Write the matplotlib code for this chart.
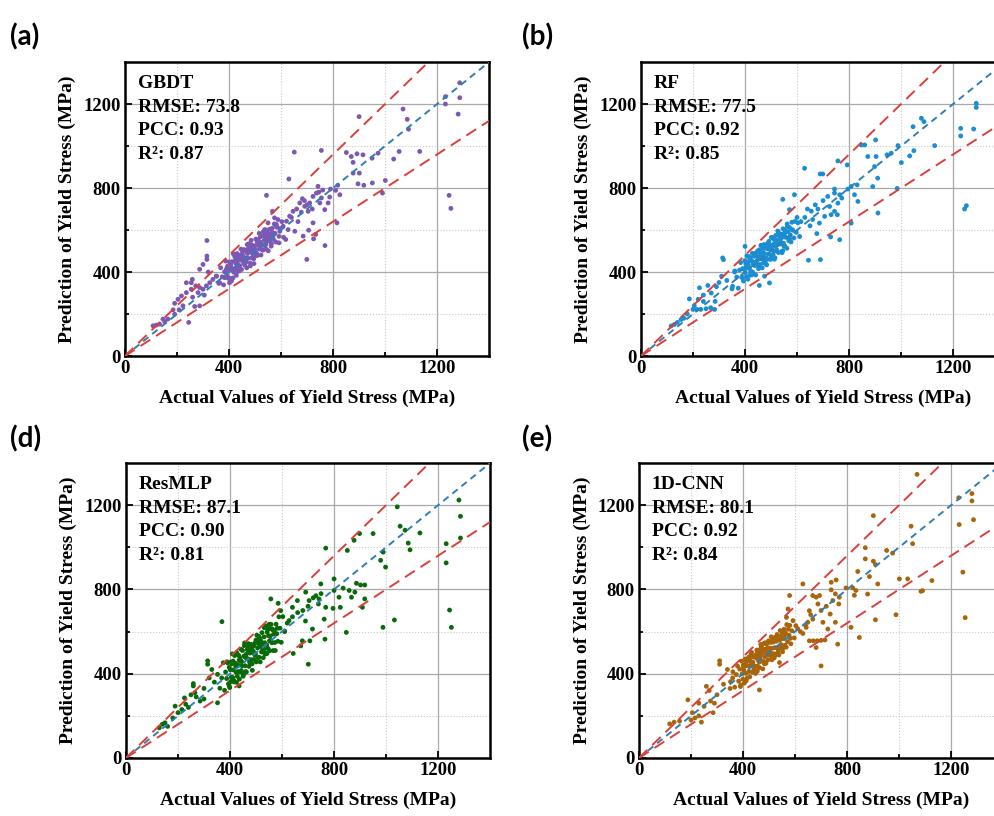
import matplotlib.pyplot as plt
import numpy as np

plt.rcParams['font.family'] = ['Liberation Serif', 'DejaVu Serif']
plt.rcParams['font.weight'] = 'bold'

# actual values of the dense middle cluster (same test samples for all models)
cluster_actual = [352, 361, 368, 374, 379, 383, 387, 391, 394, 397,
                  399, 401, 403, 405, 407, 409, 411, 413, 416, 418,
                  421, 423, 426, 428, 431, 433, 436, 438, 441, 443,
                  446, 448, 451, 453, 456, 458, 461, 463, 466, 468,
                  471, 473, 476, 478, 481, 483, 486, 488, 491, 493,
                  496, 498, 501, 503, 506, 508, 511, 513, 516, 518,
                  521, 523, 526, 528, 531, 533, 536, 538, 541, 543,
                  546, 548, 551, 553, 556, 558, 561, 563, 566, 568,
                  571, 574, 577, 580, 584, 588, 592, 597, 603, 610,
                  402, 412, 422, 432, 442, 452, 462, 472, 482, 492,
                  502, 512, 522, 532, 542, 552, 562, 572, 582, 425,
                  445, 465, 485, 505, 525, 545, 415, 435, 455, 475,
                  495, 515, 535, 555, 390, 410, 430, 450, 470, 490,
                  510, 530, 550, 460, 480, 500, 440, 520, 540, 470]

gbdt_cluster = [380, 346, 420, 377, 339, 401, 452, 383, 427, 370,
                410, 448, 370, 411, 431, 357, 449, 411, 487, 399,
                415, 453, 441, 384, 488, 435, 413, 479, 430, 463,
                509, 412, 460, 479, 442, 507, 432, 467, 501, 420,
                488, 466, 534, 500, 443, 495, 530, 467, 488, 524,
                440, 525, 509, 557, 489, 544, 480, 527, 584, 509,
                542, 481, 572, 529, 506, 572, 552, 526, 601, 509,
                551, 581, 501, 578, 604, 554, 574, 535, 608, 587,
                555, 629, 584, 543, 613, 650, 570, 607, 640, 565,
                425, 411, 473, 402, 457, 495, 449, 504, 429, 510,
                478, 552, 525, 591, 532, 578, 523, 584, 627, 419,
                479, 447, 551, 478, 534, 595, 372, 455, 453, 513,
                463, 529, 588, 547, 414, 363, 461, 456, 531, 470,
                551, 504, 567, 449, 516, 502, 405, 567, 562, 465]

rf_cluster = [332, 405, 376, 323, 409, 445, 375, 416, 357, 412,
              454, 397, 439, 377, 477, 419, 366, 434, 419, 385,
              469, 405, 453, 489, 391, 446, 475, 431, 386, 477,
              437, 500, 470, 422, 498, 436, 527, 463, 420, 497,
              444, 531, 487, 515, 467, 434, 510, 538, 485, 510,
              529, 460, 565, 507, 526, 484, 556, 461, 525, 574,
              506, 551, 595, 493, 543, 580, 533, 560, 498, 581,
              606, 537, 567, 524, 591, 565, 513, 616, 592, 549,
              612, 576, 543, 637, 598, 562, 641, 589, 634, 569,
              420, 475, 401, 438, 488, 416, 489, 483, 465, 546,
              472, 535, 527, 571, 492, 584, 629, 559, 602, 386,
              453, 509, 460, 564, 540, 501, 451, 434, 506, 452,
              523, 468, 548, 598, 374, 475, 398, 469, 473, 530,
              500, 585, 522, 484, 438, 509, 488, 501, 570, 471]

resmlp_cluster = [397, 331, 380, 452, 321, 408, 377, 451, 352, 430,
                  334, 419, 455, 383, 447, 494, 376, 418, 366, 486,
                  449, 408, 500, 388, 441, 488, 374, 475, 461, 415,
                  438, 510, 403, 483, 546, 438, 476, 408, 514, 471,
                  541, 435, 498, 466, 539, 518, 416, 530, 499, 468,
                  546, 493, 456, 583, 522, 476, 577, 539, 456, 556,
                  503, 595, 532, 476, 575, 547, 500, 626, 537, 597,
                  520, 580, 615, 509, 558, 634, 547, 609, 510, 588,
                  607, 510, 635, 590, 554, 670, 616, 549, 671, 602,
                  362, 460, 436, 410, 516, 394, 492, 532, 466, 532,
                  558, 478, 540, 618, 496, 556, 612, 548, 616, 359,
                  457, 535, 447, 547, 515, 609, 361, 463, 533, 455,
                  489, 567, 493, 579, 456, 382, 438, 388, 516, 506,
                  548, 518, 634, 410, 502, 560, 408, 530, 496, 542]

cnn_cluster = [362, 409, 336, 396, 436, 365, 422, 347, 460, 400,
               374, 441, 417, 355, 436, 470, 402, 459, 380, 438,
               473, 410, 385, 459, 438, 501, 408, 455, 484, 437,
               482, 401, 475, 512, 436, 467, 506, 429, 481, 539,
               460, 500, 423, 516, 544, 481, 505, 449, 541, 505,
               466, 556, 522, 487, 548, 575, 466, 521, 550, 495,
               568, 524, 489, 554, 586, 521, 575, 489, 559, 605,
               538, 571, 595, 520, 567, 611, 535, 593, 526, 633,
               552, 611, 583, 629, 542, 604, 652, 570, 628, 614,
               434, 366, 478, 445, 421, 493, 455, 536, 447, 520,
               517, 481, 572, 522, 578, 504, 584, 630, 568, 470,
               407, 485, 547, 501, 558, 521, 469, 444, 412, 505,
               502, 561, 506, 572, 339, 445, 491, 435, 496, 487,
               553, 494, 568, 512, 458, 510, 479, 475, 569, 527]

# sparse points of each model (actual, predicted)
gbdt_extra = [(108, 144), (120, 147), (133, 152), (146, 176), (153, 163), (165, 176), (185, 220),
              (191, 251), (191, 199), (204, 270), (208, 220), (217, 286), (223, 239), (236, 302),
              (236, 349), (245, 160), (255, 349), (255, 318), (259, 365), (268, 236), (272, 334),
              (281, 302), (287, 239), (287, 326), (287, 413), (300, 318), (300, 436), (313, 334),
              (315, 550), (315, 476), (315, 460), (326, 349), (338, 365), (351, 381), (364, 349),
              (383, 373), (402, 349), (320, 400), (305, 290), (260, 280),
              (1287, 1301), (1287, 1230), (1232, 1235), (1232, 1200), (1281, 1152), (1069, 1176),
              (1085, 1127), (1090, 1080), (900, 1140), (651, 971), (755, 979), (851, 969), (870, 950),
              (892, 963), (915, 958), (877, 922), (950, 942), (973, 966), (1054, 974), (1133, 974),
              (1033, 938), (901, 871), (877, 871), (896, 820), (918, 813), (951, 824), (1001, 836),
              (990, 776), (1246, 765), (1253, 703), (815, 634), (769, 526), (699, 460), (630, 843),
              (544, 765), (567, 689), (818, 813), (810, 789), (826, 768), (790, 795), (787, 757),
              (781, 729), (768, 697), (749, 729), (742, 808), (736, 776), (755, 753), (723, 760),
              (710, 729), (691, 713), (678, 685), (704, 689), (672, 729), (682, 749), (723, 634),
              (706, 599), (685, 571), (733, 579), (725, 558), (646, 689), (633, 666), (621, 642),
              (608, 618), (595, 594), (627, 602), (653, 594), (618, 555), (592, 539), (569, 571),
              (582, 618), (563, 587), (550, 634), (537, 602), (518, 539), (575, 658),
              (640, 660), (660, 700), (700, 720), (720, 700), (745, 780), (760, 790), (690, 740),
              (665, 640)]

rf_extra = [(116, 143), (128, 150), (140, 160), (154, 174), (165, 180), (186, 272), (200, 222),
            (215, 222), (230, 222), (250, 225), (268, 230), (283, 222), (225, 325), (257, 336),
            (240, 290), (205, 240), (270, 300), (290, 330), (300, 350), (314, 467), (317, 459),
            (310, 380), (330, 360), (350, 320), (360, 400), (400, 522), (285, 260), (240, 260),
            (178, 200), (220, 270), (475, 380), (494, 348), (455, 336),
            (1289, 1203), (1289, 1184), (1229, 1084), (1229, 1048), (1279, 1081), (1251, 716),
            (1244, 700), (1078, 1132), (1088, 1116), (1046, 1092), (1129, 1002), (1033, 953),
            (1049, 978), (988, 1002), (1001, 921), (962, 966), (946, 958), (902, 1029), (860, 1005),
            (847, 1005), (872, 950), (904, 950), (898, 902), (910, 847), (891, 807), (911, 681),
            (985, 798), (831, 815), (821, 768), (808, 807), (834, 736), (808, 633), (795, 795),
            (757, 929), (793, 910), (689, 867), (699, 867), (629, 894), (744, 795), (744, 776),
            (764, 768), (772, 752), (757, 728), (744, 689), (731, 673), (755, 673), (718, 760),
            (725, 712), (706, 665), (686, 633), (676, 583), (729, 567), (764, 554), (690, 459),
            (644, 456), (590, 768), (545, 746), (571, 697),
            (640, 700), (655, 690), (670, 720), (680, 700), (660, 650), (700, 740), (650, 620),
            (630, 660), (615, 640), (600, 660)]

resmlp_extra = [(128, 143), (140, 160), (150, 167), (160, 150), (189, 246), (200, 215), (215, 230),
                (230, 255), (240, 240), (259, 353), (259, 342), (270, 290), (285, 270), (300, 330),
                (314, 461), (314, 445), (352, 262), (320, 380), (340, 360), (250, 300), (265, 310),
                (225, 285), (180, 190), (300, 280), (330, 420), (369, 647), (435, 342), (397, 342),
                (1280, 1224), (1286, 1147), (1286, 1044), (1231, 1017), (1231, 926), (1244, 702),
                (1251, 620), (1043, 1192), (1054, 1100), (1073, 1081), (1130, 1068), (1085, 1020),
                (1092, 988), (950, 1065), (898, 1065), (877, 1033), (768, 996), (851, 985), (989, 977),
                (979, 938), (998, 906), (1032, 655), (988, 620), (918, 755), (909, 715), (886, 829),
                (902, 821), (918, 821), (880, 787), (867, 763), (858, 795), (835, 806), (819, 763),
                (824, 715), (847, 596), (800, 850), (800, 795), (768, 715), (796, 710), (749, 826),
                (742, 755), (740, 731), (762, 659), (765, 564), (717, 612), (707, 556), (701, 445),
                (678, 556), (672, 532), (643, 496), (691, 787), (704, 747), (659, 747), (640, 715),
                (627, 652), (557, 755), (585, 734), (595, 699),
                (720, 760), (700, 720), (680, 700), (660, 690), (640, 670), (620, 640), (730, 770),
                (750, 780), (690, 650), (610, 600)]

cnn_extra = [(118, 162), (135, 170), (156, 175), (188, 276), (200, 180), (215, 190), (230, 200),
             (240, 170), (259, 340), (275, 270), (290, 260), (300, 300), (310, 461), (310, 445),
             (325, 350), (250, 245), (270, 320), (230, 260), (350, 330), (340, 420), (360, 380),
             (285, 215), (205, 215), (463, 323), (540, 453),
             (1069, 1346), (1229, 1235), (1280, 1255), (1280, 1220), (1231, 1108), (1286, 1131),
             (1245, 882), (1254, 666), (901, 1150), (1046, 1100), (1052, 1017), (870, 998), (952, 985),
             (975, 972), (870, 945), (901, 934), (909, 918), (841, 885), (886, 861), (918, 826),
             (1001, 850), (1033, 850), (1126, 842), (1090, 794), (1084, 791), (879, 778), (909, 656),
             (988, 680), (847, 572), (815, 620), (796, 807), (822, 807), (828, 772), (834, 795),
             (758, 845), (739, 834), (739, 798), (755, 779), (770, 763), (768, 731), (745, 747),
             (735, 683), (755, 644), (707, 644), (726, 612), (764, 540), (681, 524), (655, 556),
             (630, 826), (668, 771), (681, 763), (694, 771), (688, 731), (655, 699), (668, 659),
             (649, 644), (643, 620), (630, 591), (700, 437), (579, 771), (573, 707), (567, 667),
             (670, 556), (685, 556), (700, 558), (715, 560), (620, 600), (640, 630), (660, 680),
             (700, 700), (720, 720)]

models = ['GBDT', 'RF', 'ResMLP', '1D-CNN']
letters = ['(a)', '(b)', '(d)', '(e)']
rmse = [73.8, 77.5, 87.1, 80.1]
pcc = [0.93, 0.92, 0.90, 0.92]
r2 = [0.87, 0.85, 0.81, 0.84]
colors = ['#7b58b4', '#1b8dd2', '#0a6a0a', '#a8650c']
clusters = [gbdt_cluster, rf_cluster, resmlp_cluster, cnn_cluster]
extras = [gbdt_extra, rf_extra, resmlp_extra, cnn_extra]

# axes boxes in figure fraction [left, bottom, width, height]
boxes = [[0.1256, 0.5637, 0.366, 0.3603],
         [0.6442, 0.5637, 0.366, 0.3603],
         [0.1266, 0.0711, 0.366, 0.3615],
         [0.6422, 0.0711, 0.366, 0.3615]]
letter_pos = [(0.010, 0.955), (0.525, 0.955), (0.010, 0.462), (0.525, 0.462)]

fig = plt.figure(figsize=(9.95, 8.16), dpi=100)

for i in range(4):
    ax = fig.add_axes(boxes[i])
    ex = np.array(extras[i])
    xs = np.concatenate([cluster_actual, ex[:, 0]])
    ys = np.concatenate([clusters[i], ex[:, 1]])

    ax.scatter(xs, ys, s=12, c=colors[i], edgecolors='none', zorder=3)

    # reference lines: y = x and +/-20 %
    line = np.array([0, 1400])
    ax.plot(line, line, ls=(0, (3.5, 2.5)), color='#2f7fb3', lw=1.4, zorder=4)
    ax.plot(line, 1.2 * line, ls=(0, (6, 3.5)), color='#d9403a', lw=1.4, zorder=4)
    ax.plot(line, 0.8 * line, ls=(0, (6, 3.5)), color='#d9403a', lw=1.4, zorder=4)

    ax.set_xlim(0, 1400)
    ax.set_ylim(0, 1400)
    ax.set_xticks([0, 400, 800, 1200])
    ax.set_yticks([0, 400, 800, 1200])
    ax.set_xticks([200, 600, 1000], minor=True)
    ax.set_yticks([200, 600, 1000], minor=True)
    ax.grid(which='major', color='#a8a8a8', lw=0.9, zorder=0)
    ax.grid(which='minor', color='#c8c8c8', lw=0.8, ls=':', zorder=0)
    ax.tick_params(which='both', direction='in', width=1.3, labelsize=13.5, pad=3)
    ax.tick_params(which='major', length=5)
    ax.tick_params(which='minor', length=3)
    for sp in ax.spines.values():
        sp.set_linewidth(1.8)

    ax.set_xlabel('Actual Values of Yield Stress (MPa)', fontsize=14, fontweight='bold', labelpad=9)
    ax.set_ylabel('Prediction of Yield Stress (MPa)', fontsize=14, fontweight='bold', labelpad=5)

    txt = f'{models[i]}\nRMSE: {rmse[i]}\nPCC: {pcc[i]:.2f}\nR\u00b2: {r2[i]:.2f}'
    ax.text(0.035, 0.955, txt, transform=ax.transAxes, fontsize=14, fontweight='bold',
            va='top', ha='left', linespacing=1.5, zorder=5)

    fig.text(letter_pos[i][0], letter_pos[i][1], letters[i], fontsize=20, fontweight='bold',
             family=['Lato', 'DejaVu Sans'], va='center', ha='left')

fig.savefig('out.png', dpi=100)
